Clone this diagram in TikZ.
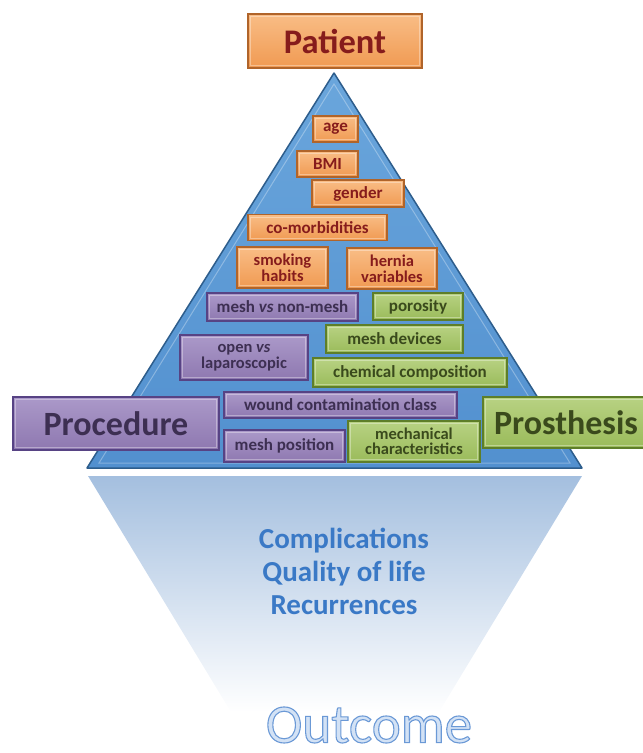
\documentclass[tikz,border=0pt]{standalone}
\usepackage{fontspec}
\setmainfont{Carlito}
\definecolor{ortop}{HTML}{F9BD86}
\definecolor{orfill}{HTML}{F09A52}
\definecolor{orline}{HTML}{B0642A}
\definecolor{ortext}{HTML}{861C1C}
\definecolor{putop}{HTML}{AB99C9}
\definecolor{pufill}{HTML}{8E78B0}
\definecolor{puline}{HTML}{574384}
\definecolor{putext}{HTML}{3D2F52}
\definecolor{grtop}{HTML}{B8D283}
\definecolor{grfill}{HTML}{9ABB5A}
\definecolor{grline}{HTML}{5E7E29}
\definecolor{grtext}{HTML}{3A4A1C}
\definecolor{tritop}{HTML}{6AA6DC}
\definecolor{trifill}{HTML}{5290CF}
\definecolor{triline}{HTML}{2D5D8C}
\definecolor{refltop}{HTML}{A4BFDF}
\definecolor{outblue}{HTML}{3A79C6}
\definecolor{outfill}{HTML}{D3E2F5}
\tikzset{
  box/.style={rectangle, inner sep=0pt, line width=1.3pt, align=center,
    font=\bfseries\fontsize{17}{15}\selectfont,
    path picture={\draw[white, opacity=0.35, line width=0.9pt]
      ([shift={(2.5pt,-2.5pt)}]path picture bounding box.north west) rectangle
      ([shift={(-2.5pt,2.5pt)}]path picture bounding box.south east);}},
  twoline/.style={font=\bfseries\fontsize{16.5}{16}\selectfont},
  obox/.style={box, draw=orline, top color=ortop, bottom color=orfill, text=ortext},
  pbox/.style={box, draw=puline, top color=putop, bottom color=pufill, text=putext},
  gbox/.style={box, draw=grline, top color=grtop, bottom color=grfill, text=grtext},
  big/.style={font=\bfseries\fontsize{34}{34}\selectfont},
  result/.style={anchor=base, text=outblue, font=\bfseries\fontsize{29}{33}\selectfont},
}
\begin{document}
\begin{tikzpicture}[x=1pt, y=-1pt]
\useasboundingbox (0,0) rectangle (643,753);
% reflection
\shade[top color=refltop, bottom color=white]
  (88,476) -- (582,476) -- (439,712) -- (231,712) -- cycle;
% pyramid
\shade[top color=tritop, bottom color=trifill] (334,73) -- (582,468) -- (87,468) -- cycle;
\draw[triline, line width=1.5pt, line join=round] (334,73) -- (582,468) -- (87,468) -- cycle;
\draw[white, opacity=0.3, line width=1pt] (334,84) -- (570,463) -- (99,463) -- cycle;
% top
\node[obox, big, font=\bfseries\fontsize{34.5}{34.5}\selectfont, minimum width=174pt, minimum height=54pt] (patient) at (335,41) {Patient};
% patient variables
\node[obox, minimum width=45pt, minimum height=26pt] (age) at (335.5,129) {age};
\node[obox, minimum width=61pt, minimum height=26pt] (bmi) at (327.5,164) {BMI};
\node[obox, minimum width=92pt, minimum height=27pt] (gender) at (358,193.5) {gender};
\node[obox, minimum width=139pt, minimum height=26pt] (comorb) at (317.5,227.5) {co-morbidities};
\node[obox, twoline, minimum width=91pt, minimum height=41pt] (smoking) at (282.5,267.5) {smoking\\habits};
\node[obox, twoline, minimum width=90pt, minimum height=41pt] (hernia) at (392,268.5) {hernia\\variables};
% procedure variables
\node[pbox, minimum width=151pt, minimum height=28pt] (meshvs) at (282.5,307) {mesh \textit{vs} non-mesh};
\node[pbox, twoline, minimum width=128pt, minimum height=45pt] (openvs) at (244,357.5) {open \textit{vs}\\laparoscopic};
\node[pbox, minimum width=233pt, minimum height=26pt] (wound) at (340.5,405) {wound contamination class};
\node[pbox, minimum width=121pt, minimum height=32pt] (meshpos) at (284.5,446) {mesh position};
% prosthesis variables
\node[gbox, minimum width=90pt, minimum height=27pt] (porosity) at (418,306.5) {porosity};
\node[gbox, minimum width=137pt, minimum height=28pt] (devices) at (394.5,339) {mesh devices};
\node[gbox, minimum width=194pt, minimum height=29pt] (chemical) at (410,372.5) {chemical composition};
\node[gbox, minimum width=132pt, minimum height=41pt, font=\bfseries\fontsize{16.5}{15.5}\selectfont] (mechanical) at (414,441.5) {mechanical\\characteristics};
% side boxes
\node[pbox, big, minimum width=206pt, minimum height=53pt] (procedure) at (116,423.5) {Procedure};
\node[gbox, big, minimum width=166pt, minimum height=51pt] (prosthesis) at (566,422.5) {Prosthesis};
% outcomes
\node[result] (comp) at (344,548) {Complications};
\node[result] (qol) at (344,581) {Quality of life};
\node[result] (rec) at (344,614) {Recurrences};
\node[inner sep=1pt, text=outfill, font=\fontsize{55}{55}\selectfont] (outcome) at (369,725)
  {\special{pdf:literal 2 Tr 1.1 w 0.42 0.6 0.84 RG}Outcome\special{pdf:literal 0 Tr}};
\end{tikzpicture}
\end{document}
